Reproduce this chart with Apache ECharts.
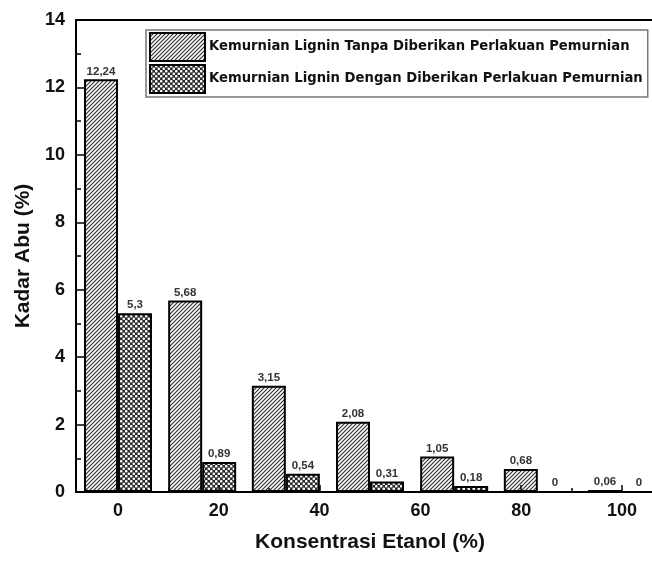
<!DOCTYPE html>
<html>
<head>
<meta charset="utf-8">
<script src="https://cdn.jsdelivr.net/npm/echarts@6/dist/echarts.min.js"></script>
<style>
  html, body { margin: 0; padding: 0; background: #fff; }
  #chart { width: 652px; height: 562px; }
</style>
</head>
<body>
<div id="chart"></div>
<script>
// Ethanol concentration of each bar pair (x position on the 0–100 axis)
const groupPositions = [0, 16.7, 33.3, 50, 66.7, 83.3, 100];
// Ash content (%) without purification treatment
const withoutPurification = [12.24, 5.68, 3.15, 2.08, 1.05, 0.68, 0.06];
// Ash content (%) with purification treatment
const withPurification = [5.3, 0.89, 0.54, 0.31, 0.18, 0, 0];
// Axis tick labels
const xTickValues = [0, 20, 40, 60, 80, 100];
const xMinorTickValues = [10, 30, 50, 70, 90];
const seriesNames = [
  'Kemurnian Lignin Tanpa Diberikan Perlakuan Pemurnian',
  'Kemurnian Lignin Dengan Diberikan Perlakuan Pemurnian'
];

// Diagonal hatch fill
function hatchPattern() {
  const c = document.createElement('canvas');
  c.width = 4; c.height = 4;
  const g = c.getContext('2d');
  g.fillStyle = '#fff';
  g.fillRect(0, 0, 4, 4);
  g.strokeStyle = '#333';
  g.lineWidth = 1.2;
  g.beginPath();
  g.moveTo(-1, 5); g.lineTo(5, -1);
  g.moveTo(-1, 1); g.lineTo(1, -1);
  g.moveTo(3, 5); g.lineTo(5, 3);
  g.stroke();
  return c;
}

// Dense cross-hatch fill (dark mesh with light dots)
function crossPattern() {
  const c = document.createElement('canvas');
  c.width = 5; c.height = 5;
  const g = c.getContext('2d');
  g.fillStyle = '#2a2a2a';
  g.fillRect(0, 0, 5, 5);
  g.fillStyle = '#fff';
  [[1.25, 1.25], [3.75, 3.75]].forEach(function (p) {
    g.beginPath();
    g.arc(p[0], p[1], 1.3, 0, Math.PI * 2);
    g.fill();
  });
  return c;
}

const fillA = { image: hatchPattern(), repeat: 'repeat' };
const fillB = { image: crossPattern(), repeat: 'repeat' };

function pairs(values) {
  return values.map(function (v, i) { return [groupPositions[i], v]; });
}

const labelStyle = {
  show: true,
  position: 'top',
  distance: 2,
  fontFamily: 'Liberation Sans, Arial, sans-serif',
  fontSize: 11.5,
  fontWeight: 'bold',
  color: '#333',
  formatter: function (p) { return String(p.value[1]).replace('.', ','); }
};

const chart = echarts.init(document.getElementById('chart'), null, { renderer: 'canvas' });

const axisFont = 'Liberation Sans, Arial, sans-serif';

chart.setOption({
  animation: false,
  backgroundColor: '#fff',
  grid: {
    left: 76, top: 20, width: 588, height: 472,
    outerBoundsMode: 'none',
    containLabel: false,
    show: true, borderColor: '#000', borderWidth: 2, backgroundColor: 'transparent'
  },
  legend: {
    orient: 'vertical',
    left: 146, top: 30,
    data: seriesNames,
    icon: 'rect',
    itemWidth: 55, itemHeight: 28,
    itemGap: 2,
    padding: [2, 5, 3, 3],
    backgroundColor: '#fff',
    borderColor: '#777',
    borderWidth: 1.5,
    itemStyle: { borderColor: '#000', borderWidth: 2 },
    textStyle: {
      fontFamily: 'DejaVu Sans, sans-serif',
      fontSize: 13.2,
      fontWeight: 'bold',
      color: '#111',
      padding: [0, 0, 0, -1]
    }
  },
  xAxis: [
    {
      type: 'value',
      min: -8.3333, max: 108.3333,
      position: 'bottom',
      z: 5,
      name: 'Konsentrasi Etanol (%)',
      nameLocation: 'middle',
      nameGap: 40,
      nameTextStyle: { fontFamily: axisFont, fontSize: 21, fontWeight: 'bold', color: '#111' },
      axisLine: { show: true, onZero: false, lineStyle: { color: '#000', width: 2 } },
      axisTick: { show: true, inside: true, length: 7, customValues: xTickValues, lineStyle: { color: '#000', width: 1.5 } },
      axisLabel: { show: true, customValues: xTickValues, margin: 10, fontFamily: axisFont, fontSize: 18, fontWeight: 'bold', color: '#111' },
      splitLine: { show: false }
    },
    {
      type: 'value',
      min: -8.3333, max: 108.3333,
      position: 'bottom',
      z: 5,
      axisLine: { show: false, onZero: false },
      axisTick: { show: true, inside: true, length: 4, customValues: xMinorTickValues, lineStyle: { color: '#000', width: 1.5 } },
      axisLabel: { show: false },
      splitLine: { show: false }
    }
  ],
  yAxis: {
    type: 'value',
    min: 0, max: 14, interval: 2,
    name: 'Kadar Abu (%)',
    nameLocation: 'middle',
    nameGap: 38,
    nameRotate: 90,
    nameTextStyle: { fontFamily: axisFont, fontSize: 21, fontWeight: 'bold', color: '#111' },
    axisLine: { show: true, onZero: false, lineStyle: { color: '#000', width: 2 } },
    axisTick: { show: true, inside: true, length: 8, lineStyle: { color: '#000', width: 1.5 } },
    minorTick: { show: true, splitNumber: 2, length: 5, lineStyle: { color: '#000', width: 1.5 } },
    axisLabel: { margin: 11, fontFamily: axisFont, fontSize: 18, fontWeight: 'bold', color: '#111' },
    splitLine: { show: false }
  },
  series: [
    {
      name: seriesNames[0],
      type: 'bar',
      xAxisIndex: 0,
      barWidth: 34,
      barGap: '0%',
      data: pairs(withoutPurification),
      itemStyle: { color: fillA, borderColor: '#000', borderWidth: 2 },
      label: labelStyle
    },
    {
      name: seriesNames[1],
      type: 'bar',
      xAxisIndex: 0,
      barWidth: 34,
      barGap: '0%',
      data: pairs(withPurification),
      itemStyle: { color: fillB, borderColor: '#000', borderWidth: 2 },
      label: labelStyle
    }
  ]
});
</script>
</body>
</html>
